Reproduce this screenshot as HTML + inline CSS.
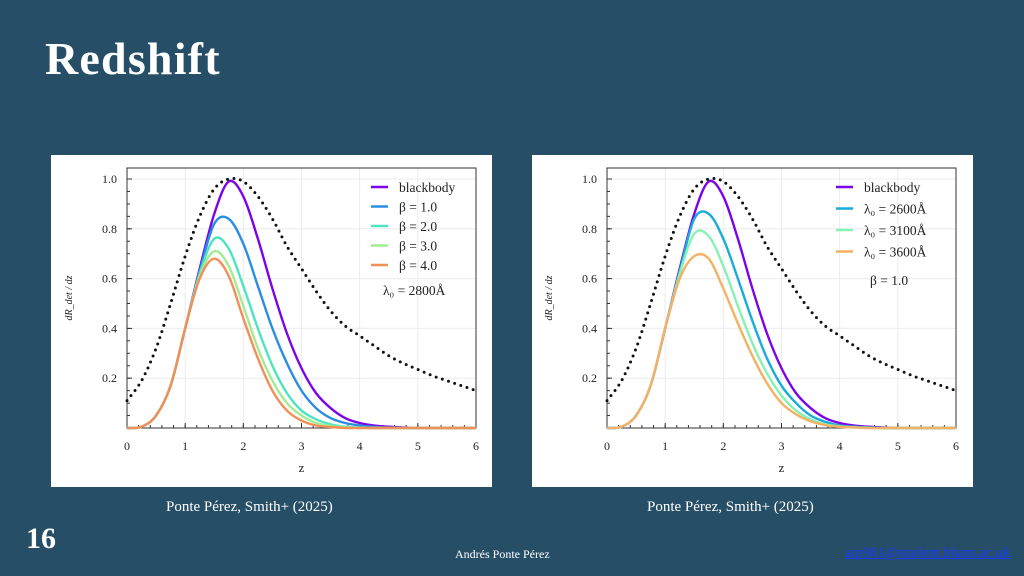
<!DOCTYPE html>
<html><head><meta charset="utf-8">
<style>
body{margin:0;width:1024px;height:576px;background:#264f67;position:relative;overflow:hidden;font-family:"Liberation Serif",serif;color:#fff}
.abs{position:absolute}
svg text{font-family:"Liberation Serif",serif}
</style></head><body>
<div class="abs" style="left:45px;top:32px;font-size:46px;font-weight:bold;letter-spacing:1.2px">Redshift</div>
<div class="abs" style="left:51px;top:155px;width:441px;height:332px;background:#fff"><svg id="c1" width="441" height="332"></svg></div>
<div class="abs" style="left:532px;top:155px;width:441px;height:332px;background:#fff"><svg id="c2" width="441" height="332"></svg></div>
<div class="abs" style="left:166px;top:499px;font-size:15px">Ponte Pérez, Smith+ (2025)</div>
<div class="abs" style="left:647px;top:499px;font-size:15px">Ponte Pérez, Smith+ (2025)</div>
<div class="abs" style="left:26px;top:522px;font-size:30px;font-weight:bold">16</div>
<div class="abs" style="left:455px;top:547px;font-size:12px">Andrés Ponte Pérez</div>
<a class="abs" style="left:845px;top:545px;font-size:14.5px;color:#1a3cff;text-decoration:underline">aip981@student.bham.ac.uk</a>
<script>
const zs=[0,0.25,0.5,0.75,1,1.25,1.5,1.75,2,2.25,2.5,2.75,3,3.25,3.5,3.75,4,4.25,4.5,4.75,5,5.25,5.5,5.75,6];
const dotted=[0.11,0.19,0.32,0.50,0.69,0.85,0.96,1.0,0.99,0.93,0.84,0.73,0.64,0.55,0.47,0.41,0.37,0.33,0.29,0.26,0.235,0.21,0.19,0.17,0.15];
const blackbody=[0,0.005,0.05,0.17,0.40,0.64,0.86,0.99,0.93,0.76,0.56,0.38,0.24,0.14,0.08,0.04,0.02,0.01,0.005,0.002,0,0,0,0,0];
const beta1=[0,0.005,0.05,0.17,0.40,0.63,0.82,0.84,0.74,0.57,0.40,0.26,0.15,0.08,0.04,0.02,0.01,0.004,0.001,0,0,0,0,0,0];
const beta2=[0,0.005,0.05,0.17,0.40,0.62,0.76,0.72,0.57,0.40,0.25,0.14,0.07,0.035,0.015,0.005,0.002,0,0,0,0,0,0,0,0];
const beta3=[0,0.005,0.05,0.17,0.40,0.61,0.71,0.65,0.49,0.32,0.19,0.10,0.05,0.02,0.008,0.003,0,0,0,0,0,0,0,0,0];
const beta4=[0,0.005,0.05,0.17,0.40,0.60,0.68,0.61,0.44,0.28,0.15,0.07,0.03,0.01,0.004,0,0,0,0,0,0,0,0,0,0];
const l2600=[0,0.005,0.05,0.17,0.40,0.63,0.84,0.86,0.76,0.60,0.43,0.28,0.17,0.10,0.05,0.025,0.01,0.005,0.002,0,0,0,0,0,0];
const l3100=[0,0.005,0.05,0.17,0.40,0.62,0.78,0.77,0.65,0.49,0.34,0.22,0.13,0.07,0.035,0.015,0.007,0.003,0,0,0,0,0,0,0];
const l3600=[0,0.005,0.05,0.17,0.40,0.60,0.69,0.68,0.56,0.42,0.29,0.18,0.10,0.055,0.027,0.012,0.005,0.002,0,0,0,0,0,0,0];
const xTicks=[0,1,2,3,4,5,6];
const yTicks=[0.2,0.4,0.6,0.8,1.0];
const NS="http://www.w3.org/2000/svg";
function mk(p,t,a){const e=document.createElementNS(NS,t);for(const k in a)e.setAttribute(k,a[k]);p.appendChild(e);return e;}
function pathD(pts){let d=`M${pts[0][0]},${pts[0][1]}`;for(let i=0;i<pts.length-1;i++){const p0=pts[i-1]||pts[i],p1=pts[i],p2=pts[i+1],p3=pts[i+2]||p2;
d+=` C${p1[0]+(p2[0]-p0[0])/6},${p1[1]+(p2[1]-p0[1])/6} ${p2[0]-(p3[0]-p1[0])/6},${p2[1]-(p3[1]-p1[1])/6} ${p2[0]},${p2[1]}`;}return d;}
function chart(id,ox,series,legend,note){
const s=document.getElementById(id);
const L=ox,R=ox+349,T=13,B=273;
const X=z=>L+(z/6)*(R-L), Y=v=>B-v*249;
xTicks.forEach(t=>{const g=mk(s,'line',{x1:X(t),x2:X(t),y1:T,y2:B,stroke:'#ececec','stroke-width':1});

const tx=mk(s,'text',{x:X(t),y:B+22,'text-anchor':'middle','font-size':12,fill:'#222'});tx.textContent=t;

mk(s,'line',{x1:X(t),x2:X(t),y1:B,y2:B-5,stroke:'#333'});});
for(let z=0;z<=6.001;z+=0.2)mk(s,'line',{x1:X(z),x2:X(z),y1:B,y2:B-3,stroke:'#333'});
yTicks.forEach(t=>{const g=mk(s,'line',{x1:L,x2:R,y1:Y(t),y2:Y(t),stroke:'#ececec'});

const tx=mk(s,'text',{x:L-10,y:Y(t)+4,'text-anchor':'end','font-size':12,fill:'#222'});tx.textContent=t.toFixed(1);

mk(s,'line',{x1:L,x2:L+5,y1:Y(t),y2:Y(t),stroke:'#333'});});
for(let v=0.05;v<1.04;v+=0.05)mk(s,'line',{x1:L,x2:L+3,y1:Y(v),y2:Y(v),stroke:'#333'});
const fr=mk(s,'rect',{x:L,y:T,width:R-L,height:B-T,fill:'none',stroke:'#333','stroke-width':1});

const xl=mk(s,'text',{x:(L+R)/2,y:B+44,'text-anchor':'middle','font-size':13,fill:'#222'});xl.textContent='z';

const yl=mk(s,'text',{x:0,y:0,transform:`translate(${L-55},${(T+B)/2}) rotate(-90)`,'text-anchor':'middle','font-size':10,fill:'#222','font-style':'italic'});yl.textContent='dR_det / dz';

const dp=mk(s,'path',{d:pathD(zs.map((z,i)=>[X(z),Y(dotted[i])])),fill:'none',stroke:'#111','stroke-width':3,'stroke-dasharray':'0 6.5','stroke-linecap':'round'});

series.forEach(([vals,col,nm])=>{const p=mk(s,'path',{d:pathD(zs.map((z,i)=>[X(z),Y(vals[i])])),fill:'none',stroke:col,'stroke-width':2.4});
});
legend.forEach(([lab,col],i)=>{const ly=T+19+i*(id=='c1'?19.5:21.5);const lx=id=='c1'?R-105:R-120;
mk(s,'line',{x1:lx,x2:lx+17,y1:ly,y2:ly,stroke:col,'stroke-width':2.5});
const t=mk(s,'text',{x:lx+28,y:ly+5,'font-size':13.5,fill:'#222'});t.textContent=lab;
});
const n=mk(s,'text',{x:note[1],y:note[2],'font-size':13.5,fill:'#222'});n.textContent=note[0];

}
chart('c1',76,[[blackbody,'#7b05e8','blackbody-line'],[beta1,'#2a8ee2','beta1-line'],[beta2,'#4ee4bf','beta2-line'],[beta3,'#a4ec94','beta3-line'],[beta4,'#f28f58','beta4-line']],
[['blackbody','#7b05e8'],['β = 1.0','#2a8ee2'],['β = 2.0','#4ee4bf'],['β = 3.0','#a4ec94'],['β = 4.0','#f28f58']],['λ₀ = 2800Å',332,140]);
chart('c2',75,[[blackbody,'#7b05e8','blackbody-line'],[l2600,'#18acd8','lambda2600-line'],[l3100,'#86f2b4','lambda3100-line'],[l3600,'#f5b163','lambda3600-line']],
[['blackbody','#7b05e8'],['λ₀ = 2600Å','#18acd8'],['λ₀ = 3100Å','#86f2b4'],['λ₀ = 3600Å','#f5b163']],['β = 1.0',338,130]);
</script>
</body></html>
